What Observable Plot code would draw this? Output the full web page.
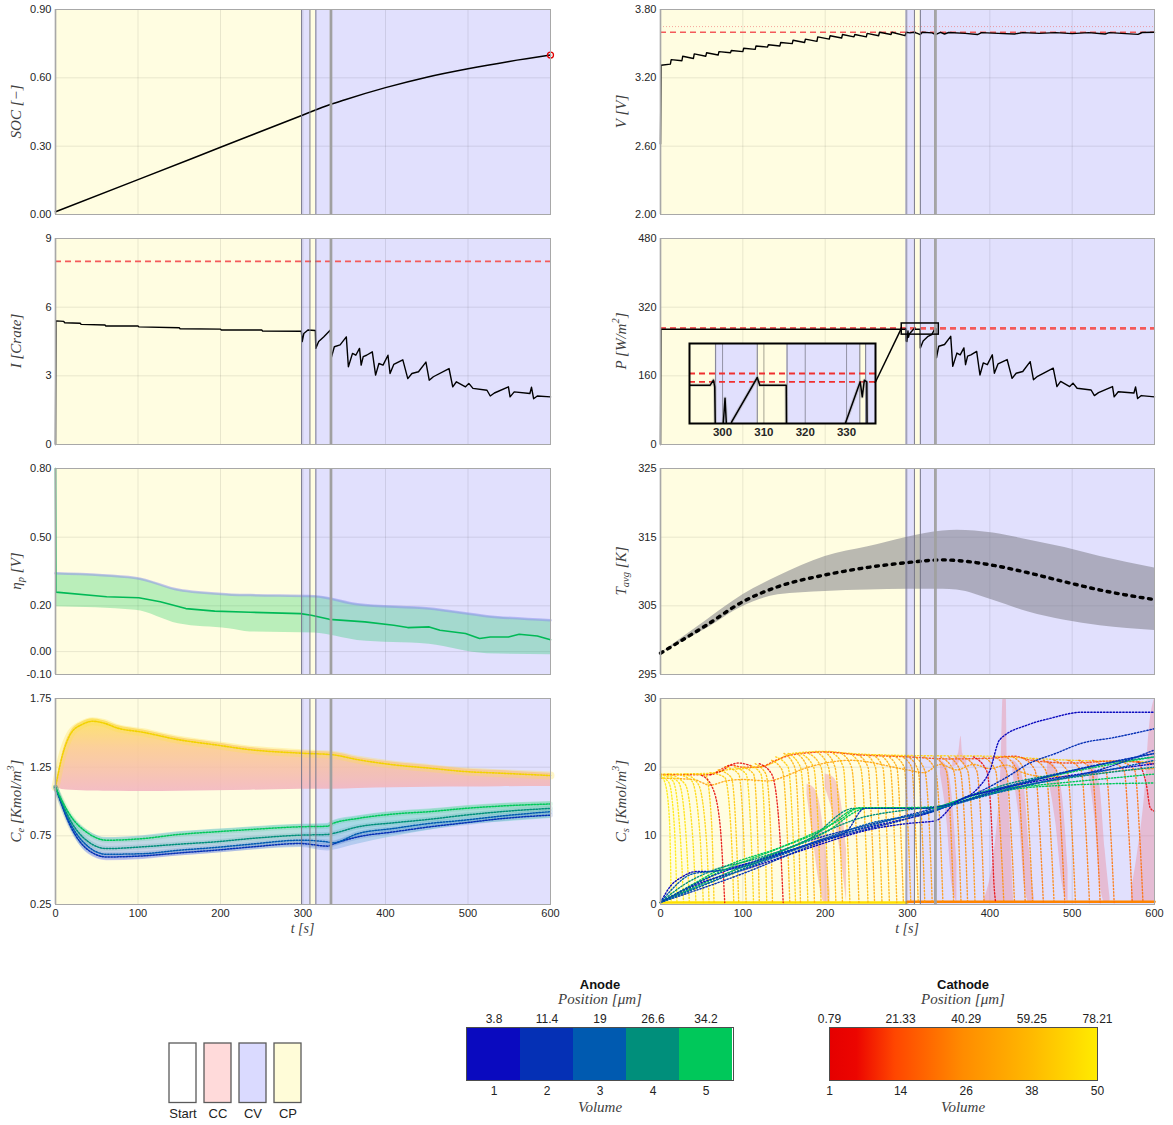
<!DOCTYPE html>
<html>
<head>
<meta charset="utf-8">
<script src="https://cdn.jsdelivr.net/npm/d3@7"></script>
<script src="https://cdn.jsdelivr.net/npm/@observablehq/plot@0.6"></script>
<style>
html,body{margin:0;padding:0;background:#fff;}
#root{position:relative;width:1173px;height:1125px;overflow:hidden;font-family:"Liberation Sans",Arial,sans-serif;color:#262626;}
.abs{position:absolute;}
.ttl{position:absolute;transform:translate(-50%,-50%);white-space:nowrap;line-height:1;}
.bold{font-weight:bold;font-size:13px;color:#111;}
.math{font-family:"Liberation Serif",serif;font-style:italic;font-size:15px;color:#404040;}
</style>
</head>
<body>
<div id="root"></div>
<script>
// ================= DATA =================
const tTicks = [0, 100, 200, 300, 400, 500, 600];
const tGrid = [100, 200, 300, 400, 500];
const phaseStart = [0, 298.3, 308.4, 315.6, 333.2, 334.6];
const phaseEnd   = [298.3, 308.4, 315.6, 333.2, 334.6, 600];
const phaseKind  = ["CP", "CV", "CP", "CV", "CP", "CV"];
const boundaryThin = [298.3, 308.4, 315.6];
const boundaryThick = [0, 333.2, 334.6];
const legendNames = ["Start", "CC", "CV", "CP"];

// SOC
const socT = [0, 100, 200, 300, 333, 350, 400, 450, 500, 550, 600];
const socV = [0.012, 0.153, 0.295, 0.437, 0.483, 0.503, 0.557, 0.603, 0.64, 0.672, 0.70];
const socTicks = [0, 0.3, 0.6, 0.9];

// Voltage
const vT = [0, 0.6, 12, 13, 26, 27, 40, 41, 55, 56, 70, 71, 85, 86, 100, 101, 115, 116, 130, 131, 145, 146, 160, 161, 175, 176, 190, 191, 205, 206, 220, 221, 235, 236, 250, 251, 265, 266, 280, 281, 297, 298.5, 303, 308, 312, 315.5, 318, 330, 334, 340, 345, 350, 370, 385, 390, 410, 430, 440, 460, 480, 500, 520, 540, 545, 560, 580, 585, 600];
const vV = [2.62, 3.31, 3.32, 3.36, 3.35, 3.39, 3.37, 3.41, 3.39, 3.42, 3.40, 3.43, 3.42, 3.44, 3.43, 3.46, 3.45, 3.48, 3.47, 3.49, 3.48, 3.51, 3.50, 3.53, 3.51, 3.54, 3.52, 3.56, 3.54, 3.57, 3.55, 3.58, 3.56, 3.58, 3.56, 3.59, 3.57, 3.60, 3.58, 3.60, 3.57, 3.60, 3.595, 3.6, 3.59, 3.58, 3.6, 3.595, 3.58, 3.6, 3.585, 3.598, 3.59, 3.58, 3.597, 3.59, 3.585, 3.597, 3.59, 3.597, 3.588, 3.597, 3.585, 3.597, 3.59, 3.582, 3.598, 3.60];
const vLimit = [3.6];
const vLimitSoft = [3.65];
const vTicks = [2.0, 2.6, 3.2, 3.8];

// Current
const iT = [0, 0.5, 10, 11, 30, 31, 60, 61, 100, 101, 150, 151, 200, 201, 250, 251, 298, 299, 301, 306, 315, 315.5, 319, 325, 333.2, 334, 338, 345, 352.5, 355, 360, 364, 368.5, 370.5, 373, 377, 384, 388, 392, 397, 403, 405.5, 410, 421, 427, 432, 440, 449, 453, 458, 477, 481.5, 486, 497, 501, 506, 523, 527, 532, 549, 551, 556, 575, 577, 579.5, 584, 600];
const iV = [0, 5.4, 5.38, 5.32, 5.3, 5.25, 5.22, 5.18, 5.18, 5.14, 5.1, 5.06, 5.04, 5.0, 5.0, 4.96, 4.95, 4.5, 4.85, 5.0, 4.98, 4.2, 4.5, 4.7, 5.0, 3.76, 4.27, 4.35, 4.7, 3.4, 3.98, 3.9, 4.2, 3.47, 3.84, 3.9, 4.05, 3.03, 3.54, 3.47, 3.9, 3.1, 3.5, 3.7, 2.88, 3.1, 3.18, 3.6, 2.81, 2.96, 3.32, 2.52, 2.74, 2.52, 2.67, 2.45, 2.37, 2.12, 2.25, 2.52, 2.08, 2.3, 2.23, 2.5, 2.0, 2.12, 2.08];
const iLimit = [8];
const iTicks = [0, 3, 6, 9];

// Power
const pT = [0, 0.5, 297, 297.8, 298.1, 298.4, 299.2, 300.6, 301.2, 302.2, 308.4, 309, 315.4, 315.6, 319, 325, 329.4, 333.3, 333.8, 334.3, 334.9, 335.2, 338, 345, 352.5, 355, 360, 364, 368.5, 370.5, 373, 377, 384, 388, 392, 397, 403, 405.5, 410, 421, 427, 432, 440, 449, 453, 458, 477, 481.5, 486, 497, 501, 506, 523, 527, 532, 549, 551, 556, 575, 577, 579.5, 584, 600];
const pV = [0, 268.5, 268.5, 270, 268, 241, 240, 264.6, 250, 257.5, 270.8, 268.5, 268.5, 225, 241, 252, 256, 269.5, 265, 270, 269.5, 202, 229, 233, 252, 182, 213, 209, 225, 186, 206, 209, 217, 162, 190, 186, 209, 166, 188, 198, 154, 166, 170, 193, 151, 159, 178, 135, 147, 135, 143, 131, 127, 114, 121, 135, 111, 123, 120, 134, 107, 114, 111];
const pLimits = [272, 269.5];
const pTicks = [0, 160, 320, 480];
const pBoxT = [293, 338];
const pBoxP = [256, 282];
const pConnect = 269;
const insetT = [292, 337];
const insetP = [257, 281];
const insetTicks = [300, 310, 320, 330];

// Overpotential
const etaT = [0, 0.5, 62, 101, 127, 158, 193, 236, 297, 310, 332, 375, 410, 427, 453, 466, 497, 514, 527, 549, 562, 584, 600];
const etaV = [0.80, 0.26, 0.24, 0.235, 0.218, 0.188, 0.177, 0.172, 0.166, 0.159, 0.141, 0.13, 0.115, 0.105, 0.108, 0.093, 0.079, 0.057, 0.064, 0.064, 0.076, 0.068, 0.052];
const etaBandT = [0, 97, 149, 210, 236, 314, 366, 453, 523, 600];
const etaBandHigh = [0.342, 0.322, 0.27, 0.25, 0.247, 0.242, 0.207, 0.188, 0.155, 0.137];
const etaBandLow = [0.196, 0.181, 0.122, 0.1, 0.086, 0.081, 0.049, 0.032, -0.009, -0.014];
const etaTicks = [-0.1, 0, 0.2, 0.5, 0.8];

// Temperature
const tempT = [0, 56, 100, 143, 200, 252, 300, 343, 360, 404, 447, 491, 534, 600];
const tempAvg = [298.1, 302.2, 305.6, 307.8, 309.5, 310.6, 311.3, 311.7, 311.6, 310.9, 309.8, 308.5, 307.3, 305.9];
const tempHigh = [298.1, 302.9, 306.6, 309.3, 312.2, 313.6, 315.0, 315.9, 316.0, 315.6, 314.6, 313.5, 312.2, 310.5];
const tempLow = [298.1, 301.7, 304.9, 306.6, 307.1, 307.3, 307.4, 307.4, 307.3, 305.8, 304.1, 302.9, 302.1, 301.4];
const tempTicks = [295, 305, 315, 325];

// Electrolyte concentration
const ceT = [0, 8, 19, 32, 45, 58, 75, 106, 149, 193, 236, 297, 336, 367, 410, 453, 497, 540, 600];
const ceTop = [1.104, 1.328, 1.499, 1.56, 1.584, 1.572, 1.535, 1.504, 1.45, 1.413, 1.377, 1.352, 1.34, 1.304, 1.267, 1.243, 1.218, 1.206, 1.189];
const ceBandHigh = [1.104, 1.34, 1.515, 1.578, 1.603, 1.59, 1.553, 1.52, 1.466, 1.43, 1.393, 1.368, 1.358, 1.32, 1.285, 1.262, 1.237, 1.225, 1.205];
const ceBandLow = [1.104, 1.088, 1.082, 1.078, 1.076, 1.075, 1.074, 1.072, 1.074, 1.078, 1.082, 1.089, 1.09, 1.095, 1.1, 1.104, 1.106, 1.108, 1.109];
const ceAT = [0, 19, 40, 62, 106, 149, 193, 236, 297, 330, 336, 367, 410, 453, 497, 540, 600];
const ceA5 = [1.104, 0.889, 0.767, 0.718, 0.73, 0.76, 0.779, 0.796, 0.816, 0.82, 0.84, 0.877, 0.909, 0.926, 0.95, 0.967, 0.982];
const ceA4 = [1.104, 0.852, 0.706, 0.657, 0.67, 0.689, 0.706, 0.73, 0.755, 0.76, 0.767, 0.816, 0.845, 0.87, 0.901, 0.926, 0.95];
const ceA3 = [1.104, 0.828, 0.67, 0.616, 0.62, 0.645, 0.665, 0.689, 0.718, 0.705, 0.699, 0.767, 0.804, 0.84, 0.865, 0.894, 0.926];
const ceA2 = [1.104, 0.81, 0.645, 0.596, 0.604, 0.625, 0.645, 0.668, 0.694, 0.675, 0.689, 0.743, 0.779, 0.815, 0.845, 0.875, 0.901];
const ceALow = [1.104, 0.79, 0.615, 0.568, 0.578, 0.603, 0.624, 0.645, 0.665, 0.64, 0.645, 0.69, 0.745, 0.79, 0.83, 0.85, 0.877];
const ceAHigh = [1.104, 0.905, 0.785, 0.737, 0.75, 0.779, 0.798, 0.815, 0.835, 0.84, 0.86, 0.897, 0.928, 0.945, 0.969, 0.986, 1.0];
const ceTicks = [0.25, 0.75, 1.25, 1.75];

// Solid concentration
const csTicks = [0, 10, 20, 30];
const csCathodeVol = [44, 12, 1, 30,
  50, 49, 48, 47, 46, 45, 44, 43, 2, 42, 41, 40, 44, 39, 43, 38, 3,
  37, 42, 36, 41, 35, 40, 38, 37, 36, 39, 34, 38, 33, 36, 35, 34, 33,
  32, 31, 30, 29, 28, 27, 26, 25, 27, 24, 5,
  26, 24, 23, 25, 22, 24, 21, 23, 22, 20, 21, 19, 20, 4];
const csCathodePts = [
  [[0,19],[60,19.1],[80,19.6],[100,19.8],[130,20.3],[160,22],[200,22.3],[230,22],[300,21.7],[400,21.6],[450,21.3],[500,21],[600,20.8]],
  [[0,18.9],[60,18.9],[75,19.8],[85,20.3],[100,20],[120,20],[140,21],[160,21.8],[200,22.2],[240,21.8],[300,21.5],[350,21.2],[400,21.3],[430,21.6],[450,21],[500,20.6],[550,20.9],[600,20.5]],
  [[60,18.9],[75,19.5],[85,20.3],[95,20.6],[110,20.2]],
  [[0,18.4],[40,18.2],[60,17.4],[80,18],[100,18.2],[130,18],[150,18.6],[170,19.6],[200,20.6],[230,21],[300,19.6],[320,19.2],[340,20.4],[360,19.6],[380,20.4],[400,19.8],[420,20.3],[440,19.2],[470,18.6],[520,18.9],[560,19.5],[600,19.8]],
  [[0,18.8],[6,17.5],[11,12],[13,0.3]],
  [[0,18.6],[10,17.8],[17,11],[20,0.3]],
  [[0,18.9],[15,18],[24,10],[28,0.3]],
  [[5,18.9],[22,17.8],[31,10],[35,0.3]],
  [[10,19],[30,17.5],[39,10],[43,0.3]],
  [[20,19],[38,18],[48,10],[52,0.3]],
  [[30,19],[46,17.5],[56,9],[59,0.3]],
  [[40,19],[55,18.8],[62,12],[65,0.3]],
  [[50,18.8],[62,17.3],[72,12],[76,5],[78,0.3]],
  [[60,19.2],[78,18.5],[86,10],[89,0.3]],
  [[70,19.6],[86,18.5],[92,10],[95,0.3]],
  [[80,20],[95,19],[101,10],[104,0.3]],
  [[90,20],[104,19],[110,10],[113,0.3]],
  [[100,20],[113,19],[118,10],[120,0.3]],
  [[110,20.2],[122,19],[127,10],[129,0.3]],
  [[115,20.5],[128,19],[134,10],[136,0.3]],
  [[120,20.5],[135,19],[145,10],[149,0.3]],
  [[135,21],[148,19.5],[154,10],[157,0.3]],
  [[140,21.5],[155,20],[161,10],[164,0.3]],
  [[150,22],[163,20],[168,10],[170,0.3]],
  [[155,22],[170,20],[176,10],[179,0.3]],
  [[165,22],[178,20],[184,10],[187,0.3]],
  [[170,22],[186,20],[192,10],[195,0.3]],
  [[180,22],[195,20],[201,10],[204,0.3]],
  [[190,22.2],[204,20],[210,10],[213,0.3]],
  [[200,22.2],[212,20],[218,10],[221,0.3]],
  [[210,22],[222,20],[227,10],[230,0.3]],
  [[220,22],[232,20],[238,10],[241,0.3]],
  [[230,22],[243,20],[249,10],[252,0.3]],
  [[240,21.8],[252,20],[257,10],[260,0.3]],
  [[250,21.8],[261,20],[266,10],[269,0.3]],
  [[258,21.8],[270,20],[275,10],[278,0.3]],
  [[266,21.8],[279,20],[284,10],[287,0.3]],
  [[275,21.7],[287,20],[292,10],[295,0.3]],
  [[283,21.7],[296,20],[301,10],[304,0.3]],
  [[292,21.6],[305,20],[310,10],[313,0.3]],
  [[300,21.6],[313,19.5],[318,10],[321,0.3]],
  [[308,21.6],[321,19.5],[327,10],[330,0.3]],
  [[320,21.5],[334,19.5],[340,10],[343,0.3]],
  [[332,21.5],[347,19.5],[353,10],[356,0.3]],
  [[340,21.5],[356,19.5],[362,10],[365,0.3]],
  [[350,21.5],[364,19.5],[370,10],[373,0.3]],
  [[358,21.5],[373,19.5],[379,10],[382,0.3]],
  [[368,21.5],[384,19.5],[390,10],[393,0.3]],
  [[380,21.5],[396,19.5],[402,12],[405,3],[407,0.3]],
  [[392,21.5],[407,19.5],[413,10],[417,0.3]],
  [[405,21.6],[420,19.5],[426,10],[430,0.3]],
  [[418,21.6],[433,19.5],[439,10],[443,0.3]],
  [[428,21.5],[442,19.5],[448,10],[452,0.3]],
  [[440,21.3],[455,19.5],[461,10],[465,0.3]],
  [[452,21.2],[468,19.5],[474,10],[478,0.3]],
  [[465,21],[481,19.5],[487,10],[491,0.3]],
  [[478,21],[494,19.5],[500,10],[504,0.3]],
  [[495,21],[511,19.5],[517,10],[521,0.3]],
  [[508,21],[524,19.5],[530,10],[534,0.3]],
  [[525,21],[541,19.5],[547,10],[551,0.3]],
  [[547,20.8],[563,19.5],[569,10],[573,0.3]],
  [[560,20.8],[576,19.5],[582,10],[586,0.3]],
  [[580,20.8],[590,17.5],[595,14],[600,13.6]]
];
const csBaseYellow = [[0,0.3],[300,0.3]];
const csBaseOrange = [[300,0.4],[600,0.4]];
const csAnodeVol = [1, 2, 5, 4, 5, 3, 1, 2, 4, 5, 3, 2];
const csAnodePts = [
  [[0,0.3],[13,2.8],[26,4.0],[43,4.8],[60,4.8],[100,5.8],[143,7.2],[187,9.0],[230,10.6],[280,12],[330,13.5],[360,15],[386,17],[400,19.5],[412,24],[447,26.2],[473,27.1],[512,28],[600,28]],
  [[0,0.3],[50,3],[100,5.5],[150,8],[200,10],[250,11.5],[300,13],[340,14.3],[380,16],[420,18.5],[447,20.5],[480,22],[512,23.5],[550,24.3],[600,25.6]],
  [[0,0.3],[40,3],[78,5.5],[143,8.2],[195,10.7],[243,14.1],[334,14.1],[360,14.8],[404,16.6],[460,17.4],[512,18],[600,19]],
  [[0,0.3],[30,3],[60,4.8],[120,6.8],[180,9.5],[235,14],[330,14],[370,15.5],[420,17.5],[480,19],[540,20.5],[600,21.5]],
  [[0,0.3],[60,3.5],[120,6.5],[200,10.5],[250,14],[330,14.2],[380,16],[450,18],[520,19.8],[600,21.5]],
  [[0,0.3],[40,4.5],[60,4.8],[100,5.5],[160,8],[220,10.5],[260,12],[300,12.8],[330,13.5],[370,15.5],[430,17.5],[500,19.5],[560,21],[600,22]],
  [[0,0.3],[50,3.2],[100,5],[150,7],[200,9],[250,10.8],[300,11.8],[334,12.2],[360,15],[400,16.5],[450,17.8],[520,19.2],[600,20.5]],
  [[0,0.3],[100,4.5],[200,9.3],[300,12.5],[340,14],[380,15.5],[450,17.5],[530,19.5],[600,22.5]],
  [[0,0.3],[100,5.2],[180,9.5],[240,12.5],[300,13.8],[350,14.5],[420,16.8],[500,18.5],[600,20]],
  [[0,0.3],[80,5.2],[150,8.5],[220,12.5],[240,14],[330,14],[380,15.5],[430,16.8],[480,17.3],[600,17.7]],
  [[0,0.3],[120,6],[200,9.5],[280,12.3],[340,14],[400,16],[470,18],[540,19.5],[600,21]],
  [[0,0.3],[60,4],[120,6.5],[200,9.5],[225,10.5],[248,14],[320,14],[340,14.3],[420,17],[500,19.5],[600,22]]
];
const csPinkT = [[178,186,193,199,206],[392,409,414,416,420,421,424.6,429],[355,362,365,367,372],[572,580,588,594,600],[428,436,442,448,454],[520,528,534,540,546],[200,210,218,226],[340,348,354,360],[470,480,488,495]];
const csPinkLo = [[16,9,3,0.3,0.3],[0.3,0.3,0.3,0.3,0.3,0.3,0.3,0.3],[20,20.5,21,20.5,20],[0.3,0.3,0.3,0.3,0.3],[19,12,3,0.3,0.3],[19,12,3,0.3,0.3],[17,13,8,0.3],[19,12,3,0.3],[19,12,3,0.3]];
const csPinkHi = [[17.5,17,15,10,2],[0.3,11.7,21.5,30,30,21.5,11.7,0.3],[21,22,24.5,22,21],[2,8,16,26,30],[21,20,17,8,1],[21,20,17,8,1],[19,18.5,16,8],[21,20,16,6],[21,20,16,5]];

// Legends
const anodeVol = [1, 2, 3, 4, 5];
const anodePos = ["3.8", "11.4", "19", "26.6", "34.2"];
const cathodeVolTicks = [1, 14, 26, 38, 50];
const cathodePos = ["0.79", "21.33", "40.29", "59.25", "78.21"];

// ================= STYLE =================
const bgColor = {CP: "#fffde1", CV: "#e1e0fd"};
const legendColor = {Start: "#ffffff", CC: "#ffdada", CV: "#dadaff", CP: "#fffcd8"};
const anodeColors = ["#0a0abf", "#0530b5", "#005ab0", "#008f7b", "#00c85a"];
const cathodeAnchors = [1, 6, 13, 25.5, 38, 50];
const cathodeAnchorColors = ["#e50000", "#ec0500", "#ff4600", "#ff8c00", "#ffb900", "#ffeb00"];
const cathodeColor = d3.scaleLinear().domain(cathodeAnchors).range(cathodeAnchorColors);
const limitRed = "#f45a5a";

const zip = (xs, ys) => xs.map((x, i) => ({x, y: ys[i]}));
const zip3 = (xs, a, b) => xs.map((x, i) => ({x, y1: a[i], y2: b[i]}));
const phases = phaseStart.map((s, i) => ({s, e: phaseEnd[i], k: phaseKind[i]}));
const fmt2 = d => d.toFixed(2);
const fmt0 = d => String(d);

const root = document.getElementById("root");
function place(node, left, top, w, h, z) {
  const d = document.createElement("div");
  d.className = "abs";
  d.style.left = left + "px"; d.style.top = top + "px";
  d.style.width = w + "px"; d.style.height = h + "px";
  d.style.zIndex = z || 1;
  d.appendChild(node);
  root.appendChild(d);
  return d;
}
function label(html, cls, x, y) {
  const d = document.createElement("div");
  d.className = "ttl " + cls;
  d.style.left = x + "px"; d.style.top = y + "px";
  d.innerHTML = html;
  root.appendChild(d);
}
function addParts(t, parts) {
  let off = 0;
  for (const [s, k] of parts) {
    const target = k === "sub" ? 4 : k === "sup" ? -6 : 0;
    const ts = t.append("tspan").attr("dy", target - off).text(s);
    if (k) ts.attr("font-size", 10.5);
    off = target;
  }
}
function yLabelMark(parts) {
  return (index, scales, values, dims) => {
    const cx = dims.marginLeft - 37;
    const cy = dims.marginTop + (dims.height - dims.marginTop - dims.marginBottom) / 2;
    const t = d3.create("svg:text")
      .attr("transform", `translate(${cx},${cy}) rotate(-90)`)
      .attr("text-anchor", "middle").attr("dominant-baseline", "middle")
      .attr("font-family", '"Liberation Serif", serif').attr("font-style", "italic")
      .attr("font-size", 15).attr("fill", "#404040");
    addParts(t, parts);
    return t.node();
  };
}
function xLabelMark(parts) {
  return (index, scales, values, dims) => {
    const cx = dims.marginLeft + (dims.width - dims.marginLeft - dims.marginRight) / 2;
    const cy = dims.height - dims.marginBottom + 29;
    const t = d3.create("svg:text")
      .attr("x", cx).attr("y", cy).attr("text-anchor", "middle")
      .attr("font-family", '"Liberation Serif", serif').attr("font-style", "italic")
      .attr("font-size", 14).attr("fill", "#404040");
    addParts(t, parts);
    return t.node();
  };
}
const baseStyle = {fontFamily: '"Liberation Sans", Arial, sans-serif', fontSize: "11px", color: "#262626", background: "transparent", overflow: "visible"};

const frameTops = [9, 238, 468, 698];
const frameHeights = [205, 206, 206, 206];
function makePanel(cfg) {
  const left = cfg.col ? 600 : 0;
  const ml = cfg.col ? 60 : 55;
  const fw = cfg.col ? 494 : 495;
  const mr = 12, mt = 8, mb = cfg.bottom ? 42 : 8;
  const fh = frameHeights[cfg.row];
  const width = ml + fw + mr, height = mt + fh + mb;
  const marks = [
    ...(cfg.defs ? [cfg.defs] : []),
    Plot.rect(phases, {x1: "s", x2: "e", fill: d => bgColor[d.k]}),
    Plot.ruleX(tGrid, {stroke: "#000", strokeOpacity: 0.09}),
    Plot.ruleY(cfg.yTicks, {stroke: "#000", strokeOpacity: 0.09}),
    ...cfg.marks,
    Plot.ruleX(boundaryThin, {stroke: "#77778a", strokeWidth: 1}),
    Plot.ruleX(boundaryThick, {stroke: "#a0a0a0", strokeWidth: 1.6}),
    ...(cfg.over || []),
    Plot.frame({stroke: "#a8a8a8"}),
    Plot.axisY({ticks: cfg.yTicks, tickFormat: cfg.fmt, tickSize: 0, tickPadding: 4, label: null}),
    yLabelMark(cfg.label)
  ];
  if (cfg.bottom) marks.push(Plot.axisX({ticks: tTicks, tickSize: 0, tickPadding: 5, label: null}), xLabelMark([["t"], [" [s]"]]));
  const plot = Plot.plot({
    width, height, marginLeft: ml, marginRight: mr, marginTop: mt, marginBottom: mb,
    x: {domain: [0, 600], axis: cfg.bottom ? undefined : null},
    y: {domain: cfg.yDomain, axis: null},
    color: {type: "identity"},
    style: baseStyle,
    marks
  });
  place(plot, left, frameTops[cfg.row] - mt, width, height, cfg.z || 1);
  plot._top = frameTops[cfg.row] - mt;
  plot._left = left;
  return plot;
}

// ---------- Row 1 ----------
makePanel({col: 0, row: 0, yDomain: [0, 0.9], yTicks: socTicks, fmt: fmt2, label: [["SOC [−]"]],
  marks: [Plot.line(zip(socT, socV), {x: "x", y: "y", stroke: "#000", strokeWidth: 1.5, curve: "monotone-x"})],
  over: [Plot.dot([{x: socT[socT.length - 1], y: socV[socV.length - 1]}], {x: "x", y: "y", r: 3, stroke: "#e00000", fill: "none", strokeWidth: 1.3})]
});
makePanel({col: 1, row: 0, yDomain: [2.0, 3.8], yTicks: vTicks, fmt: fmt2, label: [["V [V]"]],
  marks: [
    Plot.ruleY(vLimitSoft, {stroke: "#f07070", strokeOpacity: 0.6, strokeDasharray: "1,2"}),
    Plot.ruleY(vLimit, {stroke: limitRed, strokeWidth: 1.6, strokeDasharray: "6,4"}),
    Plot.line(zip(vT, vV), {x: "x", y: "y", stroke: "#000", strokeWidth: 1.4})
  ]
});
// ---------- Row 2 ----------
makePanel({col: 0, row: 1, yDomain: [0, 9], yTicks: iTicks, fmt: fmt0, label: [["I [Crate]"]],
  marks: [
    Plot.ruleY(iLimit, {stroke: limitRed, strokeWidth: 1.6, strokeDasharray: "6,4"}),
    Plot.line(zip(iT, iV), {x: "x", y: "y", stroke: "#000", strokeWidth: 1.4})
  ]
});
const pPlot = makePanel({col: 1, row: 1, yDomain: [0, 480], yTicks: pTicks, fmt: fmt0, label: [["P [W/m"], ["2", "sup"], ["]"]],
  marks: [
    Plot.ruleY(pLimits, {stroke: limitRed, strokeWidth: 1.6, strokeDasharray: "6,4"}),
    Plot.line(zip(pT, pV), {x: "x", y: "y", stroke: "#000", strokeWidth: 1.4})
  ],
  over: [Plot.rect([{t0: pBoxT[0], t1: pBoxT[1], p0: pBoxP[0], p1: pBoxP[1]}], {x1: "t0", x2: "t1", y1: "p0", y2: "p1", fill: "none", stroke: "#000", strokeWidth: 1.5})]
});
// ---------- Row 3 ----------
makePanel({col: 0, row: 2, yDomain: [-0.1, 0.8], yTicks: etaTicks, fmt: fmt2, label: [["η"], ["p", "sub"], [" [V]"]],
  marks: [
    Plot.areaY(zip3(etaBandT, etaBandLow, etaBandHigh), {x: "x", y1: "y1", y2: "y2", fill: "#00c850", fillOpacity: 0.27, curve: "monotone-x"}),
    Plot.line(zip(etaBandT, etaBandHigh), {x: "x", y: "y", stroke: "#8c8cf0", strokeWidth: 2.5, strokeOpacity: 0.5, curve: "monotone-x"}),
    Plot.line(zip(etaT, etaV), {x: "x", y: "y", stroke: "#00b956", strokeWidth: 1.6})
  ]
});
makePanel({col: 1, row: 2, yDomain: [295, 325], yTicks: tempTicks, fmt: fmt0, label: [["T"], ["avg", "sub"], [" [K]"]],
  marks: [
    Plot.areaY(zip3(tempT, tempLow, tempHigh), {x: "x", y1: "y1", y2: "y2", fill: "#7a7a84", fillOpacity: 0.52, curve: "monotone-x"}),
    Plot.line(zip(tempT, tempAvg), {x: "x", y: "y", stroke: "#000", strokeWidth: 3.4, strokeDasharray: "2.8,5.6", curve: "monotone-x"})
  ]
});
// ---------- Row 4 ----------
const ceDefs = () => {
  const defs = d3.create("svg:defs");
  const g1 = defs.append("linearGradient").attr("id", "ceUpGrad").attr("x1", 0).attr("x2", 0).attr("y1", 0).attr("y2", 1);
  [[0, "#fde05a"], [0.4, "#fbc88e"], [1, "#f2b2bf"]].forEach(([o, c]) => g1.append("stop").attr("offset", o).attr("stop-color", c));
  const g2 = defs.append("linearGradient").attr("id", "ceLowGrad").attr("x1", 0).attr("x2", 0).attr("y1", 0).attr("y2", 1);
  [[0, "#8fe8a0"], [0.5, "#82d4d6"], [1, "#aaaaf7"]].forEach(([o, c]) => g2.append("stop").attr("offset", o).attr("stop-color", c));
  return defs.node();
};
const ceLines = [[ceA2, 1], [ceA3, 2], [ceA4, 3], [ceA5, 4]];
makePanel({col: 0, row: 3, bottom: true, yDomain: [0.25, 1.75], yTicks: ceTicks, fmt: fmt2, defs: ceDefs,
  label: [["C"], ["e", "sub"], [" [Kmol/m"], ["3", "sup"], ["]"]],
  marks: [
    Plot.areaY(zip3(ceT, ceBandLow, ceBandHigh), {x: "x", y1: "y1", y2: "y2", fill: "url(#ceUpGrad)", fillOpacity: 0.85, curve: "monotone-x"}),
    Plot.line(zip(ceT, ceTop), {x: "x", y: "y", stroke: "#ffe24a", strokeWidth: 8, strokeOpacity: 0.3, curve: "monotone-x"}),
    Plot.line(zip(ceT, ceTop), {x: "x", y: "y", stroke: "#f2d200", strokeWidth: 1.6, strokeDasharray: "1.5,1.5", curve: "monotone-x"}),
    Plot.areaY(zip3(ceAT, ceALow, ceAHigh), {x: "x", y1: "y1", y2: "y2", fill: "url(#ceLowGrad)", fillOpacity: 0.6, curve: "monotone-x"}),
    ...ceLines.map(([arr, ci]) => Plot.line(zip(ceAT, arr), {x: "x", y: "y", stroke: anodeColors[ci], strokeWidth: 5, strokeOpacity: 0.12, curve: "monotone-x"})),
    ...ceLines.map(([arr, ci]) => Plot.line(zip(ceAT, arr), {x: "x", y: "y", stroke: anodeColors[ci], strokeWidth: 1.5, strokeDasharray: "1.5,1.5", curve: "monotone-x"}))
  ]
});
const csPinkRows = csPinkT.flatMap((ts, i) => ts.map((t, j) => ({x: t, y1: csPinkLo[i][j], y2: csPinkHi[i][j], id: i})));
const csCathodeRows = csCathodePts.flatMap((pts, i) => pts.map(([t, c]) => ({x: t, y: c, id: i, col: cathodeColor(csCathodeVol[i])})));
const csAnodeRows = csAnodePts.flatMap((pts, i) => pts.map(([t, c]) => ({x: t, y: c, id: i, col: anodeColors[csAnodeVol[i] - 1]})));
makePanel({col: 1, row: 3, bottom: true, yDomain: [0, 30], yTicks: csTicks, fmt: fmt0,
  label: [["C"], ["s", "sub"], [" [Kmol/m"], ["3", "sup"], ["]"]],
  marks: [
    Plot.areaY(csPinkRows, {x: "x", y1: "y1", y2: "y2", z: "id", fill: "#ec8a9c", fillOpacity: 0.42, curve: "monotone-x"}),
    Plot.line(csBaseYellow.map(([t, c]) => ({x: t, y: c})), {x: "x", y: "y", stroke: cathodeColor(47), strokeWidth: 2.6}),
    Plot.line(csBaseOrange.map(([t, c]) => ({x: t, y: c})), {x: "x", y: "y", stroke: cathodeColor(24), strokeWidth: 2.6}),
    Plot.line(csCathodeRows, {x: "x", y: "y", z: "id", stroke: "col", strokeWidth: 1.4, strokeOpacity: 0.85, strokeDasharray: "1.3,2", curve: "monotone-x"}),
    Plot.line(csAnodeRows, {x: "x", y: "y", z: "id", stroke: "col", strokeWidth: 1.4, strokeDasharray: "1.4,1.8", curve: "monotone-x"})
  ]
});

// ---------- Inset of power ----------
const insetFrame = {left: 689, top: 343, w: 186, h: 80};
const insetM = {l: 3, r: 3, t: 3, b: 18};
const insetPlot = Plot.plot({
  width: insetM.l + insetFrame.w + insetM.r, height: insetM.t + insetFrame.h + insetM.b,
  marginLeft: insetM.l, marginRight: insetM.r, marginTop: insetM.t, marginBottom: insetM.b,
  x: {domain: insetT, axis: null}, y: {domain: insetP, axis: null},
  color: {type: "identity"},
  style: {...baseStyle, fontWeight: "bold", fontSize: "11.5px"},
  marks: [
    Plot.rect(phases, {x1: "s", x2: "e", fill: d => bgColor[d.k], clip: true}),
    Plot.ruleX(insetTicks, {stroke: "#000", strokeOpacity: 0.35}),
    Plot.ruleX(boundaryThin.concat(boundaryThick), {stroke: "#8a8a9a", strokeWidth: 1.2, clip: true}),
    Plot.ruleY(pLimits, {stroke: "#f03030", strokeWidth: 1.8, strokeDasharray: "6,4"}),
    Plot.line(zip(pT, pV), {x: "x", y: "y", stroke: "#9a9a9a", strokeWidth: 3.5, strokeOpacity: 0.4, clip: true}),
    Plot.line(zip(pT, pV), {x: "x", y: "y", stroke: "#000", strokeWidth: 1.5, clip: true}),
    Plot.frame({stroke: "#000", strokeWidth: 2}),
    Plot.axisX({ticks: insetTicks, tickSize: 0, tickPadding: 4, label: null, fontWeight: "bold"})
  ]
});
const insetLeft = insetFrame.left - insetM.l, insetTop = insetFrame.top - insetM.t;
place(insetPlot, insetLeft, insetTop, insetM.l + insetFrame.w + insetM.r, insetM.t + insetFrame.h + insetM.b, 5);

// connector line
{
  const ix = insetPlot.scale("x"), iy = insetPlot.scale("y");
  const mx = pPlot.scale("x"), my = pPlot.scale("y");
  const x1 = insetLeft + ix.apply(insetT[1]), y1 = insetTop + iy.apply(pConnect);
  const x2 = pPlot._left + mx.apply(pBoxT[0]), y2 = pPlot._top + my.apply(pConnect);
  const ov = d3.create("svg").attr("width", 1173).attr("height", 1125).style("overflow", "visible");
  ov.append("line").attr("x1", x1).attr("y1", y1).attr("x2", x2).attr("y2", y2).attr("stroke", "#000").attr("stroke-width", 1.5);
  const d = place(ov.node(), 0, 0, 1173, 1125, 6);
  d.style.pointerEvents = "none";
}

// ---------- Phase legend ----------
{
  const ml = 10, mr = 10, mt = 2, mb = 24, fw = 151, fh = 59.5;
  const lg = Plot.plot({
    width: ml + fw + mr, height: mt + fh + mb, marginLeft: ml, marginRight: mr, marginTop: mt, marginBottom: mb,
    x: {type: "band", domain: legendNames, padding: 0.233, axis: null},
    color: {type: "identity"},
    style: {...baseStyle, fontSize: "13px", color: "#222"},
    marks: [
      Plot.cell(legendNames, {x: d => d, fill: d => legendColor[d], stroke: "#5a5a5a", strokeWidth: 1.3}),
      Plot.axisX({tickSize: 0, tickPadding: 6, label: null, fontSize: 13})
    ]
  });
  place(lg, 158.7 - ml, 1043 - mt, ml + fw + mr, mt + fh + mb, 2);
}

// ---------- Anode colorbar ----------
{
  const ml = 20, mr = 20, mt = 26, mb = 22, fw = 267, fh = 53;
  const bar = Plot.plot({
    width: ml + fw + mr, height: mt + fh + mb, marginLeft: ml, marginRight: mr, marginTop: mt, marginBottom: mb,
    x: {type: "band", domain: anodeVol, padding: 0, axis: null},
    color: {type: "identity"},
    style: {...baseStyle, fontSize: "12px", color: "#222"},
    marks: [
      Plot.cell(anodeVol, {x: d => d, fill: d => anodeColors[d - 1]}),
      Plot.frame({stroke: "#4d4d4d"}),
      Plot.axisX({anchor: "top", tickSize: 0, tickPadding: 5, label: null, tickFormat: d => anodePos[anodeVol.indexOf(d)]}),
      Plot.axisX({anchor: "bottom", tickSize: 0, tickPadding: 6, label: null})
    ]
  });
  place(bar, 466 - ml, 1027 - mt, ml + fw + mr, mt + fh + mb, 2);
  label("Anode", "bold", 600, 984);
  label("Position [<span style=\"font-style:italic\">μm</span>]", "math", 600, 999);
  label("Volume", "math", 600, 1107);
}

// ---------- Cathode colorbar ----------
{
  const ml = 20, mr = 20, mt = 26, mb = 22, fw = 268, fh = 53;
  const gradMark = (index, scales, values, dims) => {
    const g = d3.create("svg:g");
    const lg = g.append("defs").append("linearGradient").attr("id", "cathGrad").attr("x1", 0).attr("x2", 1).attr("y1", 0).attr("y2", 0);
    cathodeAnchors.forEach((v, i) => lg.append("stop").attr("offset", (v - 1) / 49).attr("stop-color", cathodeAnchorColors[i]));
    const x0 = scales.x(1), x1 = scales.x(50);
    g.append("rect").attr("x", x0).attr("y", dims.marginTop).attr("width", x1 - x0)
      .attr("height", dims.height - dims.marginTop - dims.marginBottom).attr("fill", "url(#cathGrad)");
    return g.node();
  };
  const bar = Plot.plot({
    width: ml + fw + mr, height: mt + fh + mb, marginLeft: ml, marginRight: mr, marginTop: mt, marginBottom: mb,
    x: {domain: [1, 50], axis: null},
    style: {...baseStyle, fontSize: "12px", color: "#222"},
    marks: [
      gradMark,
      Plot.frame({stroke: "#4d4d4d"}),
      Plot.axisX({anchor: "top", ticks: cathodeVolTicks, tickSize: 0, tickPadding: 5, label: null, tickFormat: d => cathodePos[cathodeVolTicks.indexOf(d)]}),
      Plot.axisX({anchor: "bottom", ticks: cathodeVolTicks, tickSize: 0, tickPadding: 6, label: null, tickFormat: d => String(d)})
    ]
  });
  place(bar, 829 - ml, 1027 - mt, ml + fw + mr, mt + fh + mb, 2);
  label("Cathode", "bold", 963, 984);
  label("Position [<span style=\"font-style:italic\">μm</span>]", "math", 963, 999);
  label("Volume", "math", 963, 1107);
}
</script>
</body>
</html>
